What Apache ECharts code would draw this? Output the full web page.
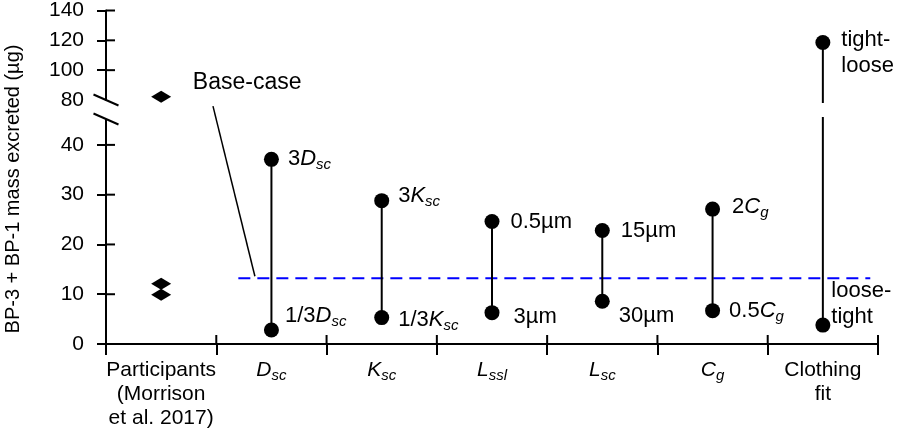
<!DOCTYPE html>
<html>
<head>
<meta charset="utf-8">
<script src="https://cdn.jsdelivr.net/npm/echarts@6/dist/echarts.min.js"></script>
<style>
html,body{margin:0;padding:0;background:#fff;}
#chart{width:898px;height:430px;}
</style>
</head>
<body>
<div id="chart"></div>
<script>
// x categories
const categories = ['Participants\n(Morrison\net al. 2017)', 'D_sc', 'K_sc', 'L_ssl', 'L_sc', 'C_g', 'Clothing\nfit'];
// measured in participants (diamonds)
const participantsLow = [12.1, 9.9];
const participantsHigh = [82.2];
// model ranges, categories D_sc .. Clothing fit
const rangeHigh = [37.1, 28.8, 24.6, 22.8, 27.1, 118.5];
const rangeLow = [2.8, 5.3, 6.3, 8.6, 6.7, 3.8];
const highLabels = ['3D_sc', '3K_sc', '0.5µm', '15µm', '2C_g', 'tight-\nloose'];
const lowLabels = ['1/3D_sc', '1/3K_sc', '3µm', '30µm', '0.5C_g', 'loose-\ntight'];
const baseCase = 13.2;
const upperTicks = [80, 100, 120, 140];
const lowerTicks = [0, 10, 20, 30, 40];

// label nudges (px)
const highOffsets = [[0, 0], [0, -5], [2, 0], [2, 0], [3, -2], [2, 10]];
const lowOffsets = [[-3, -14], [0, 2], [5, 4], [0, 15], [0, 0], [-8, -21]];

const FONT = '"Liberation Sans", Arial, sans-serif';
const lowerMax = 45;

function rich(s) {
  return s.split('\n').map(function (line) {
    const m = line.match(/^(.*?)([A-Z])_(\w+)$/);
    if (!m) return '{n|' + line + '}';
    return (m[1] ? '{n|' + m[1] + '}' : '') + '{i|' + m[2] + '}{s|' + m[3] + '}';
  }).join('\n');
}
function richSet(size, lh) {
  return {
    n: {fontSize: size, fontFamily: FONT, color: '#000', lineHeight: lh},
    i: {fontSize: size, fontFamily: FONT, fontStyle: 'italic', color: '#000', lineHeight: lh},
    s: {fontSize: 15, fontFamily: FONT, fontStyle: 'italic', color: '#000', lineHeight: 15, padding: [12, 0, 0, 0]}
  };
}
const richStyles = richSet(22, 26);

function seg(xi, yi, a, b, w) {
  return {
    type: 'line', xAxisIndex: xi, yAxisIndex: yi, clip: false, z: 3,
    symbol: 'none', lineStyle: {color: '#000', width: w || 2},
    data: [a, b]
  };
}
function dot(grid, c, v, text, off) {
  return {
    type: 'scatter', xAxisIndex: grid, yAxisIndex: grid, z: 5,
    symbol: 'circle', symbolSize: 15, itemStyle: {color: '#000', opacity: 1},
    label: {
      show: true, position: 'right', distance: 9, offset: off, color: '#000',
      formatter: rich(text), rich: richStyles
    },
    data: [[c, v]]
  };
}

const series = [];
series.push({
  type: 'scatter', xAxisIndex: 0, yAxisIndex: 0, symbol: 'diamond', symbolSize: [20, 12],
  itemStyle: {color: '#000', opacity: 1}, data: participantsHigh.map(function (v) { return [0, v]; })
});
series.push({
  type: 'scatter', xAxisIndex: 1, yAxisIndex: 1, symbol: 'diamond', symbolSize: [20, 12],
  itemStyle: {color: '#000', opacity: 1}, data: participantsLow.map(function (v) { return [0, v]; })
});
rangeHigh.forEach(function (hi, k) {
  const c = k + 1, lo = rangeLow[k];
  if (hi > lowerMax) {
    series.push(seg(1, 1, [c, lo], [c, 45.6]));
    series.push(seg(0, 0, [c, 78], [c, hi]));
    series.push(dot(0, c, hi, highLabels[k], highOffsets[k]));
  } else {
    series.push(seg(1, 1, [c, lo], [c, hi]));
    series.push(dot(1, c, hi, highLabels[k], highOffsets[k]));
  }
  series.push(dot(1, c, lo, lowLabels[k], lowOffsets[k]));
});
// base-case dashed line
series.push({
  type: 'line', xAxisIndex: 2, yAxisIndex: 1, symbol: 'none', z: 1,
  lineStyle: {color: '#0000ff', width: 2, type: [12, 7]},
  data: [[1.2, baseCase], [6.93, baseCase]]
});
// base-case pointer + text
series.push(seg(2, 1, [0.97, 47.8], [1.35, 13.6], 1.5));
series.push({
  type: 'scatter', xAxisIndex: 2, yAxisIndex: 1, clip: false, symbolSize: 1,
  itemStyle: {color: 'rgba(0,0,0,0)', opacity: 1},
  label: {show: true, position: 'inside', formatter: 'Base-case', fontSize: 23, fontFamily: FONT, color: '#000'},
  data: [[1.28, 52.5]]
});

const blackLine = {show: true, onZero: false, lineStyle: {color: '#000', width: 2}};
const tickStyle = {color: '#000', width: 2};

const option = {
  animation: false,
  grid: [
    {left: 106, right: 20, top: 10, height: 90},
    {left: 106, right: 20, top: 120, height: 224}
  ],
  xAxis: [
    {type: 'category', gridIndex: 0, data: categories, show: false},
    {
      type: 'category', gridIndex: 1, data: categories, position: 'bottom',
      axisLine: blackLine,
      axisTick: {show: true, length: 11, lineStyle: tickStyle},
      axisLabel: {
        interval: 0, margin: 14, color: '#000', fontSize: 21, fontFamily: FONT, lineHeight: 24,
        formatter: function (v) { return rich(v); },
        rich: richSet(21, 24)
      },
      splitLine: {show: false}
    },
    {type: 'value', gridIndex: 1, min: 0, max: 7, show: false},
    {type: 'value', gridIndex: 0, min: 0, max: 7, show: false}
  ],
  yAxis: [
    {
      type: 'value', gridIndex: 0, min: 80, max: 140, interval: 20, position: 'left',
      axisLine: blackLine, splitLine: {show: false},
      axisTick: {show: true, length: 9, lineStyle: tickStyle, customValues: [100, 120, 140]},
      axisLabel: {color: '#000', fontSize: 21, fontFamily: FONT, margin: 22, customValues: upperTicks}
    },
    {
      type: 'value', gridIndex: 1, min: 0, max: lowerMax, position: 'left',
      axisLine: blackLine, splitLine: {show: false},
      axisTick: {show: true, length: 9, lineStyle: tickStyle, customValues: lowerTicks},
      axisLabel: {color: '#000', fontSize: 21, fontFamily: FONT, margin: 22, customValues: lowerTicks}
    }
  ],
  series: series
};

const chart = echarts.init(document.getElementById('chart'));
chart.setOption(option);

// inward halves of the crossing ticks, 9px long, drawn through the axes
const unitX = chart.convertToPixel({xAxisIndex: 2}, 1) - chart.convertToPixel({xAxisIndex: 2}, 0);
const unitYLow = chart.convertToPixel({yAxisIndex: 1}, 0) - chart.convertToPixel({yAxisIndex: 1}, 1);
const dx = 9 / unitX, dyLow = 9 / unitYLow;
const tickSeries = [];
[100, 120, 140].forEach(function (v) { tickSeries.push(seg(3, 0, [0, v], [dx, v])); });
lowerTicks.forEach(function (v) { tickSeries.push(seg(2, 1, [0, v], [dx, v])); });
for (let b = 1; b <= categories.length; b++) tickSeries.push(seg(2, 1, [b, 0], [b, dyLow]));

// axis title and break marks
const ax = chart.convertToPixel({xAxisIndex: 2}, 0);
const yTop = chart.convertToPixel({yAxisIndex: 0}, 80);
const yBot = chart.convertToPixel({yAxisIndex: 1}, lowerMax) - 1;
function slash(cy) {
  return {
    type: 'line', z: 100,
    shape: {x1: ax - 12.5, y1: cy - 5.5, x2: ax + 12.5, y2: cy + 5.5},
    style: {stroke: '#000', lineWidth: 2}
  };
}
chart.setOption({
  series: series.concat(tickSeries),
  graphic: [
    {
      type: 'text', x: 13, y: 189, rotation: Math.PI / 2,
      style: {
        text: 'BP-3 + BP-1 mass excreted (µg)', fill: '#000',
        font: '20px ' + FONT, align: 'center', verticalAlign: 'middle'
      }
    },
    slash(yTop),
    slash(yBot)
  ]
});
</script>
</body>
</html>
